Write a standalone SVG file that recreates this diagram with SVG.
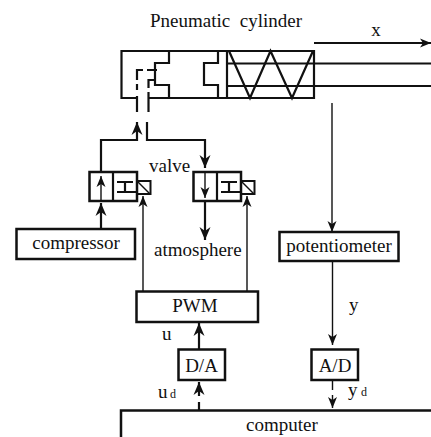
<svg xmlns="http://www.w3.org/2000/svg" width="431" height="437" viewBox="0 0 431 437">
<style>
text{font-family:"Liberation Serif","Times New Roman",serif;font-size:19px;fill:#111}
.m{text-anchor:middle}
.s{font-size:12px}
.b{fill:#fff;stroke:#111;stroke-width:2.5}
.t{fill:none;stroke:#111;stroke-width:2.2}
.n{fill:none;stroke:#111;stroke-width:1.4}
.h{fill:none;stroke:#111;stroke-width:2}
</style>
<defs>
<marker id="a" markerUnits="userSpaceOnUse" markerWidth="16" markerHeight="14" refX="14" refY="7" orient="auto"><path d="M1 1.500L14 7L1 12.500L5 7Z" fill="#111"/></marker>
<marker id="o" markerUnits="userSpaceOnUse" markerWidth="14" markerHeight="12" refX="12" refY="6" orient="auto"><path d="M1 1.500L12 6L1 10.500L4 6Z" fill="#111"/></marker>
</defs>
<rect width="431" height="437" fill="#fff"/>
<g id="connectors">
<path class="t" d="M101 172V140H137V122" marker-end="url(#a)"/>
<path class="t" d="M147 122V140H205V168" marker-end="url(#a)"/>
<path class="t" d="M101 229V203" marker-end="url(#a)"/>
<path class="t" d="M205 201V240" marker-end="url(#a)"/>
<path class="n" d="M143 291V196" marker-end="url(#o)"/>
<path class="n" d="M247 291V196" marker-end="url(#o)"/>
<path class="n" d="M332 103V232" marker-end="url(#o)"/>
<path class="n" d="M332.500 261V345" marker-end="url(#o)"/>
<path class="t" d="M199 349V323" marker-end="url(#a)"/>
<path class="t" d="M199 410V402M199 396V382" marker-end="url(#a)"/>
<path class="n" d="M332.500 381V390M332.500 395V408" marker-end="url(#o)"/>
<path class="t" d="M314 43H431" marker-end="url(#o)"/>
</g>
<g id="cylinder">
<path class="t" d="M137 98H121.500V51H314V98H148"/>
<path class="t" d="M169 51V63H155V85H169V98"/>
<path class="t" d="M218 51V63H204V85H218V98"/>
<path class="t" d="M227 51V98"/>
<path class="t" d="M229 51L250 98L270.500 51L292 98L313 51"/>
<path class="t" d="M227 63.500H431M227 86H431"/>
<path class="t" d="M137 112V96M137 90V84M137 80V70H143M147 70H157"/>
<path class="t" d="M155 80H148.500V88M148.500 92V112"/>
</g>
<g id="valve-left">
<rect class="b" x="89.500" y="172" width="47.500" height="29"/>
<path class="t" d="M113 172V201M117 182H133M125 182V192M117 192H137"/>
<rect class="h" x="137" y="181" width="13.500" height="13" fill="#fff"/>
<path class="n" d="M137 181L150 194"/>
<path class="n" d="M101 201V176" marker-end="url(#o)"/>
</g>
<g id="valve-right">
<rect class="b" x="193.500" y="172" width="47.500" height="29"/>
<path class="t" d="M217 172V201M221 182H237M229 182V192M221 192H241"/>
<rect class="h" x="241" y="181" width="13.500" height="13" fill="#fff"/>
<path class="n" d="M241 181L254 194"/>
<path class="n" d="M205 172V198" marker-end="url(#o)"/>
</g>
<g id="compressor"><rect class="b" x="16.500" y="229" width="118.500" height="30"/><text class="m" x="76" y="249">compressor</text></g>
<g id="potentiometer"><rect class="b" x="279.500" y="232" width="119" height="29"/><text class="m" x="339" y="252">potentiometer</text></g>
<g id="pwm"><rect class="b" x="136.500" y="291.500" width="121.500" height="30.500"/><text class="m" x="195" y="312">PWM</text></g>
<g id="da"><rect class="b" x="178.500" y="349.500" width="46.500" height="30.500"/><text class="m" x="201.500" y="372">D/A</text></g>
<g id="ad"><rect class="b" x="311.500" y="349.500" width="46.500" height="30.500"/><text class="m" x="335" y="372">A/D</text></g>
<g id="computer"><path class="b" style="fill:none" d="M431 410.500H121V437"/><text class="m" x="282" y="431">computer</text></g>
<g id="labels">
<text x="150" y="27" xml:space="preserve">Pneumatic  cylinder</text>
<text class="m" x="376" y="36">x</text>
<text x="149" y="172">valve</text>
<text x="154" y="256">atmosphere</text>
<text x="162" y="340">u</text>
<text x="349" y="311">y</text>
<text x="158" y="398">u</text><text class="s" x="170" y="398">d</text>
<text x="348" y="396">y</text><text class="s" x="361" y="396">d</text>
</g>
</svg>
